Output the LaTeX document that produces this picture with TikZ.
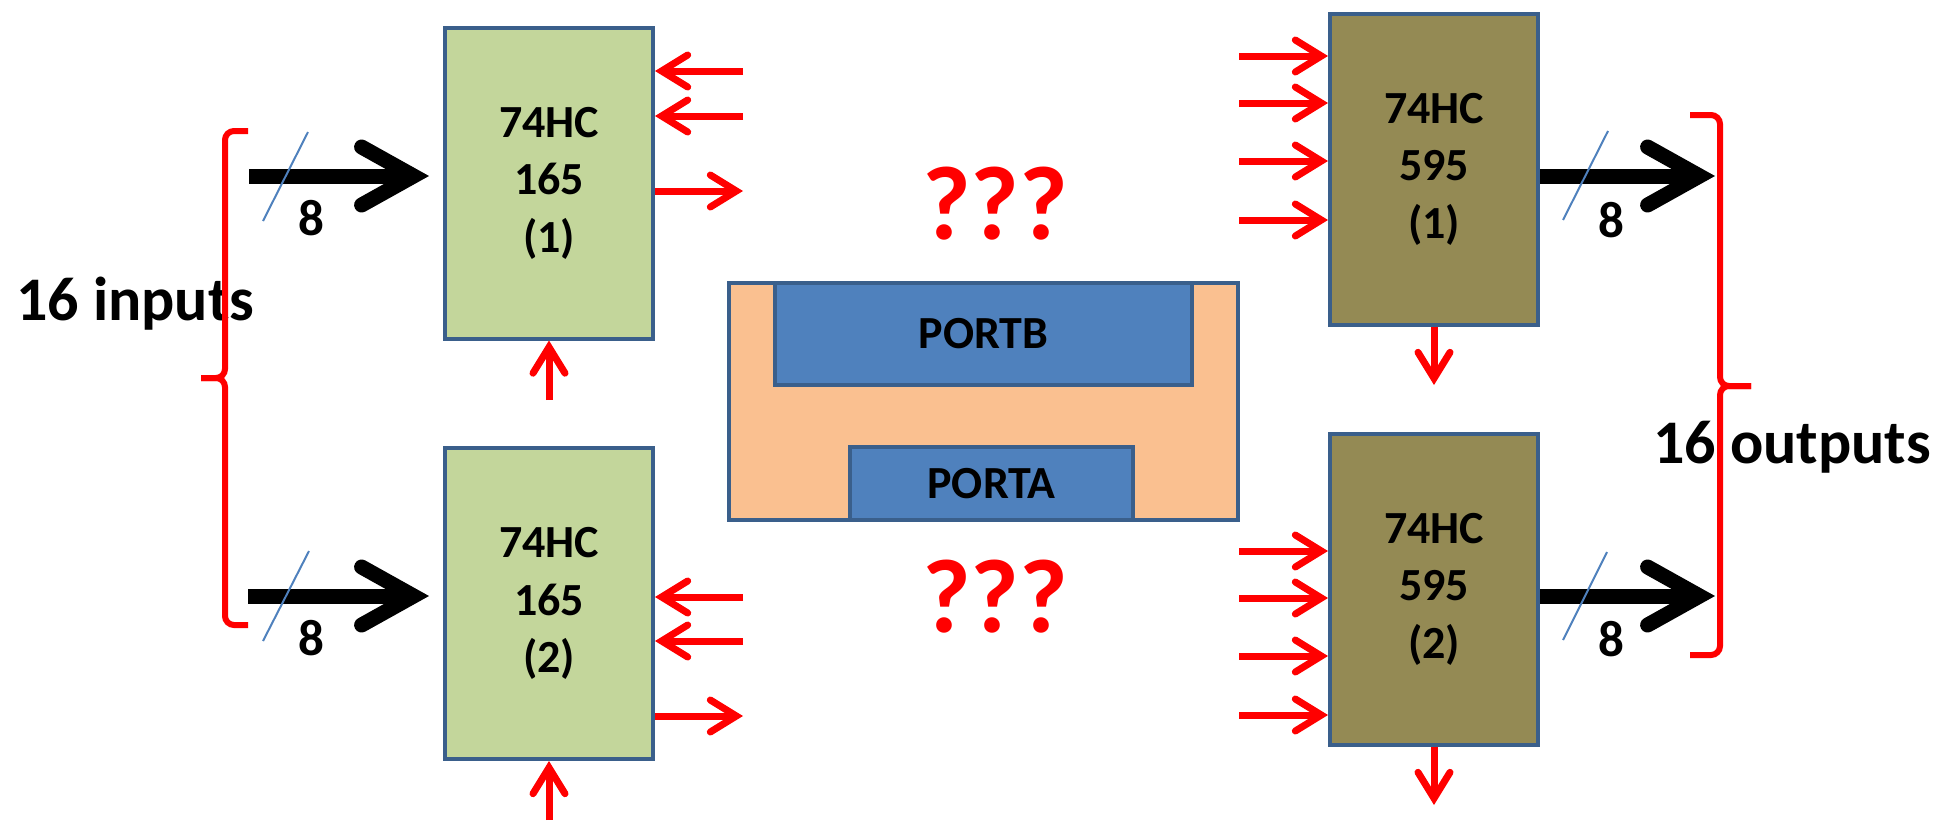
\documentclass[tikz,border=0pt]{standalone}
\usepackage{fontspec}
\setmainfont{Carlito}
\usetikzlibrary{arrows.meta}
\definecolor{chipgreen}{HTML}{C3D69B}
\definecolor{chipolive}{HTML}{948A54}
\definecolor{edgeblue}{HTML}{3A5F8B}
\definecolor{portblue}{HTML}{4F81BD}
\definecolor{mcuorange}{HTML}{FAC090}

\begin{document}
\begin{tikzpicture}[x=1pt,y=-1pt,
  chip/.style={draw=edgeblue,line width=4pt,minimum width=208pt,minimum height=311pt,
    inner sep=0pt,align=center,font=\fontsize{46}{57.5}\selectfont\bfseries},
  portbox/.style={draw=edgeblue,line width=4pt,fill=portblue,inner sep=0pt,
    font=\fontsize{46}{50}\selectfont\bfseries},
  sig/.style={red,line width=7pt,-{Straight Barb[length=26pt,width=32pt,line cap=round,line join=miter]}},
  bus/.style={black,line width=15pt,-{Straight Barb[length=52pt,width=58pt,line cap=round,line join=miter]}},
  slash/.style={portblue,line width=2pt},
  brace/.style={red,line width=6pt,rounded corners=9pt},
  big/.style={font=\fontsize{62}{62}\selectfont\bfseries},
  width8/.style={font=\fontsize{51}{51}\selectfont\bfseries}]
\useasboundingbox (0,0) rectangle (1955,820);

% chips
\node[chip,fill=chipgreen] (in_1) at (549,183) {74HC\\165\\(1)};
\node[chip,fill=chipgreen] (in_2) at (549,603.5) {74HC\\165\\(2)};
\node[chip,fill=chipolive] (out_1) at (1434,169) {74HC\\595\\(1)};
\node[chip,fill=chipolive] (out_2) at (1434,589) {74HC\\595\\(2)};

% micro with its ports
\node[portbox,fill=mcuorange,minimum width=509pt,minimum height=237pt] (mcu) at (983.5,401.5) {};
\node[portbox,minimum width=417pt,minimum height=102pt] (portb) at (983.5,334) {PORTB};
\node[portbox,minimum width=283pt,minimum height=73pt] (porta) at (991.5,483.5) {PORTA};

\node[red,font=\fontsize{105}{105}\selectfont\bfseries] (qa) at (995,204) {???};
\node[red,font=\fontsize{105}{105}\selectfont\bfseries] (qb) at (995,597) {???};

% 165 control lines
\coordinate (c1_1) at (743,71);
\coordinate (c1_2) at (743,116);
\coordinate (c1_3) at (743,191);
\coordinate (c1_4) at (549,400);
\draw[sig] (c1_1) -- (c1_1 -| in_1.east);
\draw[sig] (c1_2) -- (c1_2 -| in_1.east);
\draw[sig] (c1_3 -| in_1.east) -- (c1_3);
\draw[sig] (c1_4) -- (in_1.south);
\coordinate (c2_1) at (743,597);
\coordinate (c2_2) at (743,641);
\coordinate (c2_3) at (743,716);
\coordinate (c2_4) at (549,820);
\draw[sig] (c2_1) -- (c2_1 -| in_2.east);
\draw[sig] (c2_2) -- (c2_2 -| in_2.east);
\draw[sig] (c2_3 -| in_2.east) -- (c2_3);
\draw[sig] (c2_4) -- (in_2.south);

% 595 control lines
\foreach \y [count=\i] in {56,103,161,220} {
  \coordinate (d1_\i) at (1239,\y);
  \draw[sig] (d1_\i) -- (d1_\i -| out_1.west);
}
\foreach \y [count=\i] in {551,598,656,715} {
  \coordinate (d2_\i) at (1239,\y);
  \draw[sig] (d2_\i) -- (d2_\i -| out_2.west);
}
\coordinate (e_1) at (1434,385);
\coordinate (e_2) at (1434,805);
\draw[sig] (out_1.south) -- (e_1);
\draw[sig] (out_2.south) -- (e_2);

% 8 bit buses
\coordinate (b_1) at (249,176);
\coordinate (b_2) at (248,596);
\coordinate (q_1) at (1715,176);
\coordinate (q_2) at (1715,596);
\draw[bus,shorten >=14pt] (b_1) -- (b_1 -| in_1.west);
\draw[bus,shorten >=14pt] (b_2) -- (b_2 -| in_2.west);
\draw[bus] (q_1 -| out_1.east) -- (q_1);
\draw[bus] (q_2 -| out_2.east) -- (q_2);
\draw[slash] (308,132) -- (263,221);
\draw[slash] (309,551) -- (263,641);
\draw[slash] (1608,131) -- (1563,220);
\draw[slash] (1607,552) -- (1563,640);
\node[width8] (w_1) at (311,218) {8};
\node[width8] (w_2) at (311,638) {8};
\node[width8] (w_3) at (1611,220) {8};
\node[width8] (w_4) at (1611,639) {8};

% braces
\node[big,anchor=base west,inner sep=0pt] (ins) at (16,320) {16 inputs};
\node[big,anchor=base west,inner sep=0pt] (outs) at (1653,463) {16 outputs};
\draw[brace] (248,131) -- (225,131) -- (225,378) -- (201,378);
\draw[brace] (201,378) -- (225,378) -- (225,625) -- (248,625);
\draw[brace] (1690,115) -- (1720,115) -- (1720,386) -- (1751,386);
\draw[brace] (1751,386) -- (1720,386) -- (1720,655) -- (1690,655);
\end{tikzpicture}
\end{document}
